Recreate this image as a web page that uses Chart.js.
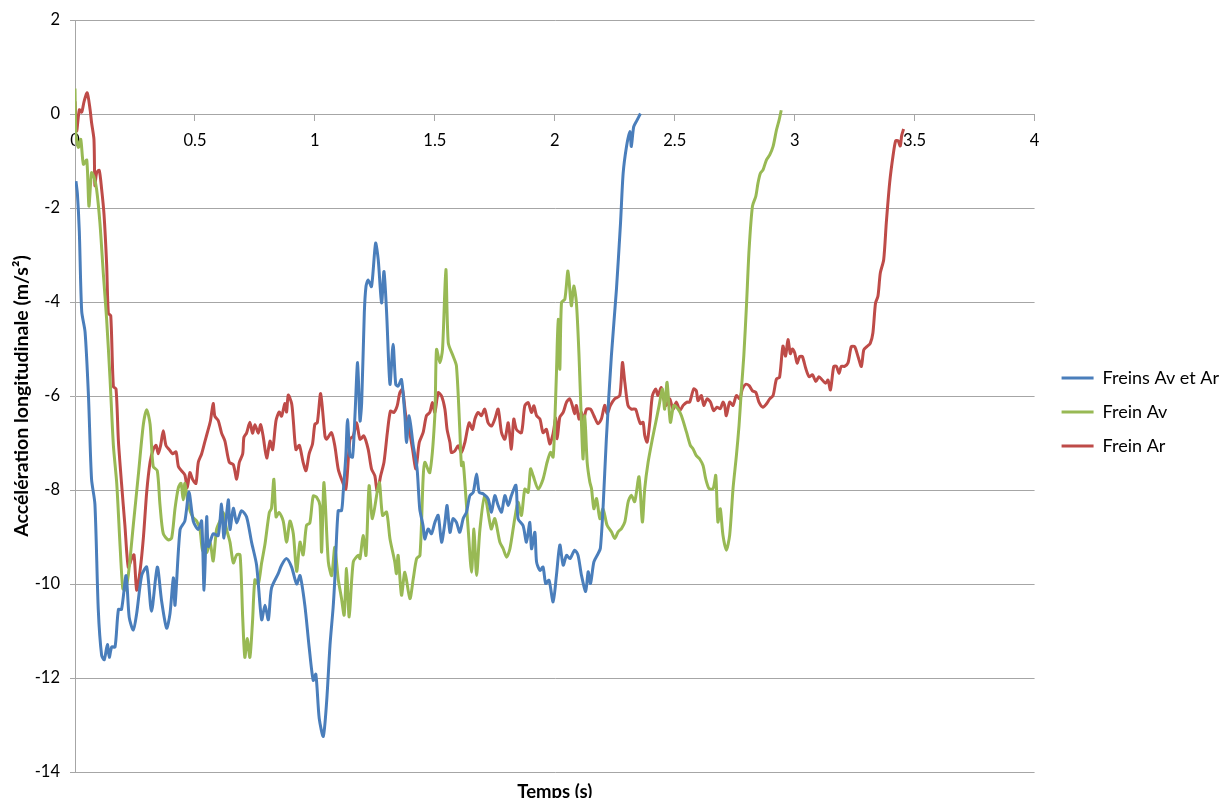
<!DOCTYPE html>
<html>
<head>
<meta charset="utf-8">
<title>Accélération longitudinale</title>
<script src="https://cdn.jsdelivr.net/npm/chart.js@4.4.1/dist/chart.umd.min.js"></script>
<style>
  html, body { margin: 0; padding: 0; background: #fff; }
  #wrap { width: 1226px; height: 798px; position: relative; }
</style>
</head>
<body>
<div id="wrap"><canvas id="accelChart"></canvas></div>
<script>
// series names and axis labels
const seriesNames = ['Freins Av et Ar', 'Frein Av', 'Frein Ar'];
const xTitle = 'Temps (s)';
const yTitle = 'Accélération longitudinale (m/s²)';
const xTickValues = [0, 0.5, 1, 1.5, 2, 2.5, 3, 3.5, 4];
const yTickValues = [-14, -12, -10, -8, -6, -4, -2, 0, 2];

// Freins Av et Ar (s, m/s²)
const bothT = [
  0.004, 0.010, 0.018, 0.028, 0.042, 0.056, 0.069, 0.083, 0.097, 0.111,
  0.122, 0.135, 0.143, 0.153, 0.167, 0.181, 0.194, 0.213, 0.226, 0.243,
  0.257, 0.278, 0.299, 0.319, 0.343, 0.361, 0.382, 0.396, 0.410, 0.417,
  0.438, 0.458, 0.475, 0.493, 0.514, 0.528, 0.538, 0.549, 0.556, 0.576,
  0.597, 0.611, 0.621, 0.639, 0.646, 0.660, 0.674, 0.694, 0.715, 0.736,
  0.757, 0.778, 0.792, 0.806, 0.819, 0.847, 0.861, 0.882, 0.903, 0.924,
  0.938, 0.958, 0.976, 0.993, 1.004, 1.018, 1.035, 1.049, 1.063, 1.076,
  1.083, 1.097, 1.111, 1.118, 1.129, 1.136, 1.146, 1.157, 1.167, 1.178,
  1.188, 1.195, 1.206, 1.213, 1.222, 1.236, 1.253, 1.264, 1.278, 1.288,
  1.299, 1.313, 1.326, 1.337, 1.347, 1.361, 1.375, 1.382, 1.393, 1.410,
  1.426, 1.437, 1.451, 1.458, 1.472, 1.486, 1.500, 1.514, 1.528, 1.542,
  1.551, 1.563, 1.576, 1.590, 1.604, 1.618, 1.632, 1.646, 1.660, 1.674,
  1.685, 1.701, 1.722, 1.736, 1.750, 1.764, 1.778, 1.792, 1.806, 1.819,
  1.838, 1.847, 1.868, 1.882, 1.896, 1.903, 1.917, 1.924, 1.938, 1.951,
  1.962, 1.976, 1.993, 2.007, 2.021, 2.035, 2.049, 2.063, 2.083, 2.097,
  2.111, 2.129, 2.139, 2.149, 2.163, 2.181, 2.190, 2.201, 2.215, 2.236,
  2.257, 2.274, 2.285, 2.299, 2.313, 2.319, 2.329, 2.343, 2.357
];
const bothA = [
  -1.43, -1.70, -2.50, -4.20, -4.64, -5.98, -7.77, -8.30, -10.54, -11.52,
  -11.61, -11.29, -11.56, -11.34, -11.34, -10.54, -10.54, -9.82, -10.71, -10.98,
  -10.63, -9.82, -9.64, -10.58, -9.64, -10.36, -10.94, -10.63, -9.87, -10.45,
  -8.84, -8.66, -8.04, -8.66, -8.84, -8.66, -10.13, -8.57, -9.20, -8.93,
  -8.97, -8.30, -9.02, -8.21, -8.84, -8.39, -8.70, -8.44, -8.57, -9.11,
  -9.60, -10.76, -10.45, -10.76, -10.09, -9.78, -9.60, -9.46, -9.64, -10.00,
  -9.82, -10.45, -11.34, -12.05, -11.92, -12.86, -13.24, -12.50, -11.30, -10.50,
  -9.90, -8.44, -8.44, -8.05, -7.27, -6.50, -7.27, -7.30, -6.42, -5.29,
  -6.53, -6.14, -4.23, -3.67, -3.53, -3.67, -2.75, -3.10, -4.02, -3.35,
  -4.23, -5.75, -4.90, -5.75, -5.79, -5.65, -6.42, -6.99, -6.42, -7.06,
  -7.55, -8.40, -8.76, -9.04, -8.83, -8.93, -8.69, -8.54, -9.11, -8.69,
  -8.33, -8.90, -8.61, -8.69, -8.90, -8.61, -8.47, -8.12, -8.05, -7.66,
  -8.05, -8.08, -8.19, -8.47, -8.12, -8.33, -8.47, -8.12, -8.33, -8.12,
  -7.90, -8.61, -8.76, -9.11, -8.69, -9.25, -8.90, -9.53, -9.71, -9.64,
  -9.99, -9.92, -10.38, -9.81, -9.17, -9.60, -9.39, -9.46, -9.28, -9.39,
  -9.81, -10.16, -9.74, -9.99, -9.53, -9.35, -9.24, -8.40, -6.91, -5.14,
  -3.73, -2.32, -1.26, -0.69, -0.37, -0.69, -0.27, -0.13, 0.01
];

// Frein Av
const frontT = [
  0.000, 0.004, 0.014, 0.024, 0.035, 0.049, 0.058, 0.069, 0.079, 0.090,
  0.104, 0.118, 0.132, 0.146, 0.160, 0.174, 0.188, 0.199, 0.208, 0.222,
  0.243, 0.264, 0.285, 0.299, 0.313, 0.326, 0.343, 0.354, 0.368, 0.389,
  0.403, 0.417, 0.431, 0.442, 0.451, 0.458, 0.472, 0.490, 0.507, 0.521,
  0.532, 0.549, 0.563, 0.576, 0.590, 0.604, 0.618, 0.632, 0.646, 0.660,
  0.674, 0.688, 0.699, 0.708, 0.718, 0.729, 0.740, 0.750, 0.764, 0.778,
  0.792, 0.810, 0.819, 0.829, 0.838, 0.851, 0.868, 0.882, 0.896, 0.910,
  0.924, 0.938, 0.951, 0.965, 0.979, 0.993, 1.007, 1.021, 1.028, 1.038,
  1.056, 1.070, 1.083, 1.097, 1.111, 1.122, 1.132, 1.143, 1.160, 1.181,
  1.188, 1.201, 1.213, 1.226, 1.240, 1.268, 1.282, 1.299, 1.313, 1.333,
  1.340, 1.347, 1.361, 1.375, 1.396, 1.410, 1.424, 1.438, 1.451, 1.458,
  1.479, 1.500, 1.507, 1.521, 1.532, 1.546, 1.556, 1.576, 1.590, 1.604,
  1.611, 1.618, 1.629, 1.639, 1.653, 1.663, 1.674, 1.688, 1.708, 1.729,
  1.736, 1.750, 1.771, 1.785, 1.799, 1.813, 1.833, 1.847, 1.861, 1.875,
  1.889, 1.899, 1.910, 1.931, 1.951, 1.968, 1.982, 1.993, 2.000, 2.007,
  2.014, 2.021, 2.028, 2.042, 2.055, 2.069, 2.079, 2.090, 2.101, 2.111,
  2.118, 2.125, 2.135, 2.146, 2.153, 2.163, 2.174, 2.188, 2.201, 2.218,
  2.236, 2.250, 2.264, 2.278, 2.292, 2.306, 2.319, 2.333, 2.351, 2.365,
  2.375, 2.389, 2.407, 2.421, 2.435, 2.449, 2.458, 2.468, 2.482, 2.496,
  2.514, 2.528, 2.549, 2.565, 2.576, 2.590, 2.604, 2.618, 2.629, 2.643,
  2.660, 2.671, 2.680, 2.690, 2.701, 2.715, 2.729, 2.743, 2.757, 2.768,
  2.778, 2.788, 2.799, 2.810, 2.824, 2.838, 2.847, 2.857, 2.868, 2.882,
  2.896, 2.910, 2.924, 2.935, 2.944
];
const frontA = [
  0.54, -0.45, -0.71, -0.54, -1.07, -0.98, -1.96, -1.25, -1.34, -1.60,
  -2.32, -3.39, -4.38, -5.63, -7.05, -7.86, -9.20, -10.09, -10.13, -9.82,
  -8.75, -7.68, -6.60, -6.29, -6.60, -7.50, -7.59, -8.30, -8.93, -9.06,
  -9.02, -8.39, -7.95, -7.86, -8.21, -7.86, -8.30, -8.57, -8.66, -8.84,
  -9.29, -9.33, -9.11, -9.51, -8.84, -8.66, -8.48, -8.84, -9.11, -9.55,
  -9.38, -9.38, -10.71, -11.56, -11.16, -11.56, -10.80, -9.91, -10.00, -9.55,
  -9.15, -8.48, -8.39, -7.77, -8.57, -8.48, -8.66, -9.11, -8.66, -8.93,
  -9.73, -9.11, -9.38, -8.75, -8.70, -8.13, -8.15, -8.33, -9.32, -7.84,
  -9.53, -9.82, -9.22, -9.89, -10.31, -10.66, -9.67, -10.70, -9.53, -9.39,
  -9.46, -8.97, -9.39, -7.91, -8.61, -7.84, -8.54, -8.47, -9.04, -9.53,
  -9.78, -9.39, -10.24, -9.75, -10.31, -9.89, -9.46, -9.39, -7.77, -7.41,
  -7.63, -6.42, -5.01, -5.29, -5.01, -3.31, -4.87, -5.15, -5.36, -6.71,
  -7.48, -7.41, -8.12, -8.83, -9.75, -8.83, -9.82, -8.83, -8.12, -8.69,
  -8.83, -8.61, -9.11, -9.25, -9.43, -9.25, -8.61, -8.26, -8.54, -7.98,
  -8.05, -7.55, -7.70, -7.98, -7.77, -7.41, -7.20, -7.30, -6.56, -5.50,
  -4.37, -5.43, -4.01, -3.94, -3.34, -4.08, -3.66, -4.01, -5.14, -6.56,
  -7.34, -6.42, -7.41, -7.83, -7.97, -8.40, -8.18, -8.61, -8.40, -8.75,
  -8.89, -9.03, -8.89, -8.82, -8.68, -8.25, -8.11, -8.25, -7.72, -8.68,
  -7.97, -7.41, -6.91, -6.56, -6.20, -5.85, -6.28, -5.71, -6.56, -6.20,
  -6.28, -6.42, -6.77, -7.05, -7.12, -7.27, -7.34, -7.48, -7.76, -7.97,
  -7.97, -7.69, -8.68, -8.40, -8.96, -9.28, -8.96, -7.97, -7.27, -6.63,
  -5.85, -5.14, -4.08, -2.88, -1.96, -1.75, -1.47, -1.26, -1.19, -0.98,
  -0.87, -0.69, -0.34, -0.13, 0.08
];

// Frein Ar
const rearT = [
  0.000, 0.007, 0.018, 0.028, 0.038, 0.051, 0.063, 0.069, 0.079, 0.083,
  0.090, 0.101, 0.111, 0.121, 0.132, 0.139, 0.149, 0.160, 0.171, 0.181,
  0.194, 0.208, 0.222, 0.236, 0.246, 0.257, 0.271, 0.285, 0.299, 0.313,
  0.326, 0.338, 0.347, 0.357, 0.368, 0.379, 0.393, 0.407, 0.421, 0.431,
  0.444, 0.458, 0.468, 0.479, 0.490, 0.504, 0.514, 0.528, 0.542, 0.556,
  0.565, 0.576, 0.583, 0.597, 0.611, 0.625, 0.643, 0.660, 0.674, 0.685,
  0.699, 0.704, 0.715, 0.729, 0.740, 0.750, 0.764, 0.774, 0.785, 0.799,
  0.813, 0.824, 0.838, 0.851, 0.861, 0.875, 0.882, 0.889, 0.903, 0.910,
  0.921, 0.935, 0.951, 0.963, 0.976, 0.990, 1.000, 1.010, 1.024, 1.042,
  1.049, 1.069, 1.083, 1.097, 1.111, 1.129, 1.146, 1.160, 1.174, 1.188,
  1.204, 1.222, 1.236, 1.250, 1.260, 1.274, 1.288, 1.302, 1.315, 1.329,
  1.343, 1.354, 1.365, 1.379, 1.393, 1.407, 1.421, 1.435, 1.451, 1.465,
  1.479, 1.490, 1.500, 1.514, 1.528, 1.542, 1.551, 1.563, 1.569, 1.583,
  1.597, 1.611, 1.625, 1.643, 1.657, 1.667, 1.681, 1.694, 1.708, 1.722,
  1.736, 1.750, 1.764, 1.778, 1.792, 1.806, 1.819, 1.829, 1.840, 1.861,
  1.875, 1.889, 1.903, 1.913, 1.924, 1.938, 1.951, 1.965, 1.979, 1.993,
  2.004, 2.010, 2.021, 2.035, 2.049, 2.062, 2.073, 2.083, 2.090, 2.101,
  2.111, 2.118, 2.132, 2.149, 2.163, 2.180, 2.194, 2.208, 2.218, 2.232,
  2.250, 2.271, 2.282, 2.292, 2.305, 2.319, 2.337, 2.347, 2.357, 2.368,
  2.375, 2.385, 2.396, 2.407, 2.421, 2.430, 2.444, 2.454, 2.465, 2.479,
  2.493, 2.507, 2.521, 2.535, 2.551, 2.562, 2.579, 2.590, 2.597, 2.611,
  2.621, 2.635, 2.649, 2.662, 2.676, 2.690, 2.701, 2.708, 2.715, 2.729,
  2.743, 2.757, 2.771, 2.782, 2.796, 2.810, 2.824, 2.838, 2.851, 2.868,
  2.882, 2.896, 2.910, 2.924, 2.937, 2.951, 2.962, 2.972, 2.982, 2.990,
  3.000, 3.010, 3.021, 3.032, 3.046, 3.060, 3.074, 3.088, 3.101, 3.115,
  3.129, 3.139, 3.149, 3.163, 3.174, 3.185, 3.194, 3.208, 3.222, 3.236,
  3.250, 3.264, 3.278, 3.288, 3.301, 3.315, 3.326, 3.337, 3.347, 3.357,
  3.371, 3.382, 3.396, 3.410, 3.421, 3.431, 3.440, 3.446, 3.454
];
const rearA = [
  0.27, -0.36, 0.09, 0.04, 0.27, 0.45, 0.09, -0.18, -0.54, -1.52,
  -1.25, -1.20, -1.60, -2.14, -3.21, -4.24, -4.29, -5.80, -5.85, -6.96,
  -7.86, -8.75, -9.64, -9.46, -9.38, -10.13, -9.73, -9.02, -8.04, -7.41,
  -7.14, -7.05, -7.23, -7.05, -6.74, -7.05, -7.14, -7.23, -7.19, -7.50,
  -7.59, -7.68, -7.95, -7.63, -7.77, -7.86, -7.41, -7.23, -6.96, -6.70,
  -6.52, -6.16, -6.43, -6.52, -6.79, -6.96, -7.41, -7.46, -7.77, -7.41,
  -7.23, -6.88, -6.79, -6.56, -6.79, -6.61, -6.79, -6.61, -6.88, -7.32,
  -6.96, -7.14, -6.52, -6.34, -6.43, -6.16, -6.34, -5.98, -6.16, -6.52,
  -7.14, -7.05, -7.41, -7.59, -7.23, -7.02, -6.60, -6.57, -5.95, -6.85,
  -6.92, -6.78, -7.06, -7.55, -7.77, -7.98, -6.92, -6.85, -6.57, -6.92,
  -6.85, -7.13, -7.55, -7.70, -8.05, -7.70, -7.41, -6.78, -6.32, -6.35,
  -6.21, -5.93, -5.86, -6.42, -6.71, -7.13, -7.55, -6.99, -6.78, -6.42,
  -6.35, -6.14, -6.35, -5.93, -6.00, -6.28, -6.71, -6.99, -7.20, -7.17,
  -7.06, -7.20, -6.99, -6.57, -6.71, -6.49, -6.35, -6.42, -6.28, -6.57,
  -6.64, -6.49, -6.28, -6.78, -6.92, -6.57, -7.13, -6.49, -6.71, -6.78,
  -6.21, -6.14, -6.35, -6.21, -6.42, -6.49, -6.78, -6.71, -7.02, -6.80,
  -6.47, -6.91, -6.45, -6.35, -6.13, -6.06, -6.20, -6.38, -6.20, -6.49,
  -6.35, -6.56, -6.28, -6.28, -6.42, -6.59, -6.49, -6.20, -6.38, -6.20,
  -6.06, -5.99, -5.29, -5.71, -6.20, -6.28, -6.28, -6.45, -6.59, -6.56,
  -6.84, -6.98, -6.56, -5.99, -5.85, -5.99, -5.82, -6.06, -6.20, -6.06,
  -6.28, -6.13, -6.31, -6.20, -6.13, -6.13, -5.85, -5.89, -6.10, -5.99,
  -6.20, -6.06, -6.13, -6.31, -6.24, -6.27, -6.13, -6.20, -6.42, -6.13,
  -6.20, -5.99, -6.06, -5.85, -5.75, -5.78, -5.89, -5.92, -6.13, -6.24,
  -6.17, -6.06, -5.99, -5.64, -5.60, -4.94, -5.15, -4.80, -5.10, -5.00,
  -5.08, -5.30, -5.16, -5.16, -5.41, -5.59, -5.55, -5.69, -5.59, -5.66,
  -5.73, -5.66, -5.87, -5.37, -5.37, -5.52, -5.37, -5.37, -5.30, -4.95,
  -4.95, -5.16, -5.37, -5.02, -4.95, -4.88, -4.66, -4.02, -3.88, -3.38,
  -3.10, -2.31, -1.46, -0.89, -0.57, -0.57, -0.68, -0.46, -0.32
];

const lineColors = ['#4A7EBB', '#98B954', '#BE4B48'];
const fontFamily = 'Lato, "Liberation Sans", sans-serif';
const gridColor = '#a6a6a6';

function toPoints(times, values) {
    return times.map((t, i) => ({ x: t, y: values[i] }));
}

// x title sits under the plot, and the legend is nudged to where Excel put it
const layoutTweaks = {
    id: 'layoutTweaks',
    afterLayout(chart) {
        const lg = chart.legend;
        if (lg) {
            lg.left += 11; lg.right += 11;
            lg.top += 16; lg.bottom += 16;
        }
    },
    afterDraw(chart) {
        const { ctx, chartArea } = chart;
        ctx.save();
        ctx.font = 'bold 18.5px ' + fontFamily;
        ctx.fillStyle = '#000';
        ctx.textAlign = 'center';
        ctx.textBaseline = 'middle';
        ctx.fillText(xTitle, (chartArea.left + chartArea.right) / 2, chartArea.bottom + 20);
        ctx.restore();
    }
};

const series = [[bothT, bothA], [frontT, frontA], [rearT, rearA]];

const ctx = document.getElementById('accelChart').getContext('2d');
new Chart(ctx, {
    type: 'line',
    data: {
        datasets: series.map((s, i) => ({
            label: seriesNames[i],
            data: toPoints(s[0], s[1]),
            borderColor: lineColors[i],
            backgroundColor: lineColors[i],
            borderWidth: 3,
            pointRadius: 0,
            pointHoverRadius: 0,
            tension: 0.25,
            fill: false
        }))
    },
    options: {
        responsive: true,
        maintainAspectRatio: false,
        animation: false,
        layout: {
            padding: { top: 20, bottom: 26, left: 0, right: 8 }
        },
        scales: {
            x: {
                type: 'linear',
                position: { y: 0 },
                min: 0,
                max: 4,
                afterBuildTicks: scale => {
                    scale.ticks = xTickValues.map(v => ({ value: v }));
                },
                ticks: {
                    padding: 11,
                    color: '#000',
                    maxRotation: 0,
                    font: { family: fontFamily, size: 16.5 },
                    callback: value => String(value)
                },
                grid: {
                    drawOnChartArea: false,
                    drawTicks: true,
                    tickLength: 6,
                    color: gridColor
                },
                border: { color: gridColor }
            },
            y: {
                type: 'linear',
                min: -14,
                max: 2,
                afterBuildTicks: scale => {
                    scale.ticks = yTickValues.map(v => ({ value: v }));
                },
                afterFit: scale => {
                    scale.width = 75;
                },
                ticks: {
                    padding: 10,
                    color: '#000',
                    font: { family: fontFamily, size: 16.5 },
                    callback: value => String(value)
                },
                grid: {
                    color: gridColor,
                    tickLength: 5
                },
                border: { color: gridColor },
                title: {
                    display: true,
                    text: yTitle,
                    color: '#000',
                    padding: { top: 10, bottom: 0 },
                    font: { family: fontFamily, size: 19.5, weight: 'bold' }
                }
            }
        },
        plugins: {
            legend: {
                position: 'right',
                maxWidth: 191,
                labels: {
                    usePointStyle: true,
                    pointStyle: 'line',
                    pointStyleWidth: 32,
                    padding: 16,
                    color: '#000',
                    font: { family: fontFamily, size: 18 }
                }
            },
            tooltip: { enabled: false }
        }
    },
    plugins: [layoutTweaks]
});
</script>
</body>
</html>
